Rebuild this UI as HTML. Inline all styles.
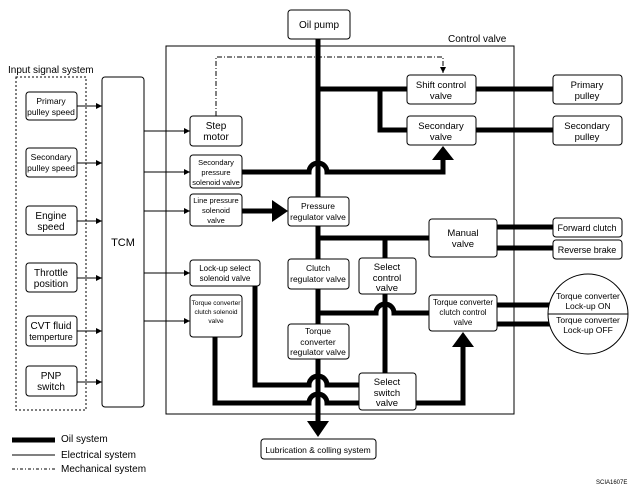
<!DOCTYPE html>
<html><head><meta charset="utf-8"><style>
html,body{margin:0;padding:0;background:#fff}
svg{display:block}
text{font-family:"Liberation Sans",sans-serif;fill:#000}
.b{fill:#fff;stroke:#000;stroke-width:1}
.o{fill:none;stroke:#000;stroke-width:5}
.e{fill:none;stroke:#000;stroke-width:1}
</style></head><body>
<svg width="641" height="494" viewBox="0 0 641 494" xmlns="http://www.w3.org/2000/svg">
<defs><marker id="a" markerWidth="6" markerHeight="6" refX="6" refY="3" orient="auto" markerUnits="userSpaceOnUse"><path d="M0,0L6,3L0,6z" fill="#000"/></marker></defs>
<rect x="166" y="46" width="348" height="368" fill="none" stroke="#000" stroke-width="1"/>
<text x="448" y="42" font-size="10">Control valve</text>
<text x="8" y="73" font-size="10">Input signal system</text>
<rect x="16" y="77" width="70" height="333" fill="none" stroke="#000" stroke-dasharray="2,2"/>
<g class="o">
<path d="M318,39V422"/>
<path d="M318,89H407M380,89V130H407M476,89H553M476,130H553"/>
<path d="M242,172H309A9,9 0 0 1 327,172H443V158"/>
<path d="M242,211H274"/>
<path d="M318,238H429M385,238V258M497,227H553M497,248H553"/>
<path d="M318,313H376A9,9 0 0 1 394,313H429M385,294V373"/>
<path d="M497,305H550M497,324H550"/>
<path d="M416,403H463V345"/>
<path d="M255,286V385H309A9,9 0 0 1 327,385H359"/>
<path d="M215,337V403H309A9,9 0 0 1 327,403H359"/>
</g>
<path d="M432,160L443,146L454,160z"/>
<path d="M272,200L288,211L272,222z"/>
<path d="M452,347L463,332L474,347z"/>
<path d="M307,421L318,437L329,421z"/>
<g class="e" marker-end="url(#a)">
<path d="M77,106H102"/><path d="M77,163H102"/><path d="M77,221H102"/><path d="M77,278H102"/><path d="M77,331H102"/><path d="M77,382H102"/>
<path d="M144,131H190"/><path d="M144,172H190"/><path d="M144,211H190"/><path d="M144,273H190"/><path d="M144,321H190"/>
</g>
<path d="M216,116V57H443V73" fill="none" stroke="#000" stroke-dasharray="5,2,1,2" marker-end="url(#a)"/>
<g class="b">
<rect x="288" y="10" width="62" height="29" rx="3"/>
<rect x="26" y="92" width="51" height="28" rx="3"/>
<rect x="26" y="148" width="51" height="29" rx="3"/>
<rect x="26" y="206" width="51" height="29" rx="3"/>
<rect x="26" y="263" width="51" height="29" rx="3"/>
<rect x="26" y="316" width="51" height="30" rx="3"/>
<rect x="26" y="366" width="51" height="30" rx="3"/>
<rect x="102" y="77" width="42" height="330" rx="3"/>
<rect x="190" y="116" width="52" height="30" rx="3"/>
<rect x="190" y="155" width="52" height="33" rx="3"/>
<rect x="190" y="194" width="52" height="32" rx="3"/>
<rect x="190" y="260" width="70" height="26" rx="3"/>
<rect x="190" y="295" width="52" height="42" rx="3"/>
<rect x="407" y="75" width="69" height="29" rx="3"/>
<rect x="407" y="116" width="69" height="29" rx="3"/>
<rect x="553" y="75" width="69" height="29" rx="3"/>
<rect x="553" y="116" width="69" height="29" rx="3"/>
<rect x="288" y="197" width="61" height="29" rx="3"/>
<rect x="429" y="219" width="68" height="38" rx="3"/>
<rect x="553" y="218" width="69" height="19" rx="3"/>
<rect x="553" y="240" width="69" height="19" rx="3"/>
<rect x="288" y="259" width="61" height="30" rx="3"/>
<rect x="359" y="258" width="57" height="36" rx="3"/>
<rect x="429" y="295" width="68" height="36" rx="3"/>
<rect x="288" y="324" width="61" height="35" rx="3"/>
<rect x="359" y="373" width="57" height="37" rx="3"/>
<rect x="261" y="439" width="115" height="20" rx="3"/>
<circle cx="588" cy="314" r="40"/>
</g>
<line x1="548" y1="314" x2="628" y2="314" stroke="#000"/>
<g font-size="9.5" text-anchor="middle">
<text x="319" y="28" font-size="10">Oil pump</text>
<g font-size="8.5"><text x="51" y="104">Primary</text><text x="51" y="115">pulley speed</text>
<text x="51" y="160">Secondary</text><text x="51" y="171">pulley speed</text></g>
<text x="51" y="219" font-size="10">Engine</text><text x="51" y="230" font-size="10">speed</text>
<text x="51" y="276" font-size="10">Throttle</text><text x="51" y="287" font-size="10">position</text>
<text x="51" y="329" font-size="10">CVT fluid</text><text x="51" y="340" font-size="9">temperture</text>
<text x="51" y="379" font-size="10">PNP</text><text x="51" y="390" font-size="10">switch</text>
<text x="123" y="246" font-size="11">TCM</text>
<text x="216" y="129" font-size="10">Step</text><text x="216" y="140" font-size="10">motor</text>
<g font-size="7.5"><text x="216" y="165">Secondary</text><text x="216" y="175">pressure</text><text x="216" y="185">solenoid valve</text>
<text x="216" y="203">Line pressure</text><text x="216" y="213">solenoid</text><text x="216" y="223">valve</text></g>
<text x="225" y="271" font-size="8">Lock-up select</text><text x="225" y="281" font-size="8">solenoid valve</text>
<g font-size="6.5"><text x="216" y="305">Torque converter</text><text x="216" y="314">clutch solenoid</text><text x="216" y="323">valve</text></g>
<text x="441" y="88">Shift control</text><text x="441" y="99">valve</text>
<text x="441" y="129">Secondary</text><text x="441" y="140">valve</text>
<text x="587" y="88">Primary</text><text x="587" y="99">pulley</text>
<text x="587" y="129">Secondary</text><text x="587" y="140">pulley</text>
<g font-size="8.5"><text x="318" y="209">Pressure</text><text x="318" y="220">regulator valve</text></g>
<text x="463" y="236">Manual</text><text x="463" y="247">valve</text>
<text x="587" y="231" font-size="9">Forward clutch</text>
<text x="587" y="253" font-size="9">Reverse brake</text>
<g font-size="8.5"><text x="318" y="271">Clutch</text><text x="318" y="282">regulator valve</text></g>
<text x="387" y="270">Select</text><text x="387" y="281">control</text><text x="387" y="291">valve</text>
<g font-size="8"><text x="463" y="305">Torque converter</text><text x="463" y="315">clutch control</text><text x="463" y="325">valve</text></g>
<g font-size="8.5"><text x="318" y="334">Torque</text><text x="318" y="345">converter</text><text x="318" y="355">regulator valve</text></g>
<text x="387" y="385">Select</text><text x="387" y="396">switch</text><text x="387" y="406">valve</text>
<text x="318" y="453" font-size="8.5">Lubrication &amp; colling system</text>
<g font-size="8.5"><text x="588" y="299">Torque converter</text><text x="588" y="309">Lock-up ON</text>
<text x="588" y="323">Torque converter</text><text x="588" y="333">Lock-up OFF</text></g>
</g>
<line x1="12" y1="440" x2="55" y2="440" stroke="#000" stroke-width="5"/>
<line x1="12" y1="455" x2="55" y2="455" stroke="#000"/>
<line x1="12" y1="469" x2="55" y2="469" stroke="#000" stroke-dasharray="3,2,1,2"/>
<g font-size="10"><text x="61" y="442">Oil system</text><text x="61" y="458">Electrical system</text><text x="61" y="472">Mechanical system</text></g>
<text x="596" y="484" font-size="6">SCIA1607E</text>
</svg>
</body></html>
